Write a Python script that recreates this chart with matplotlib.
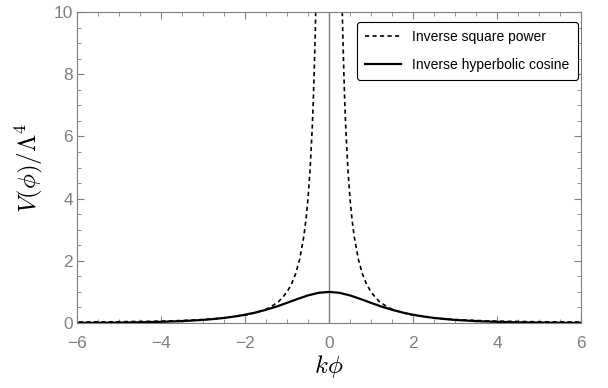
import numpy as np
import matplotlib
matplotlib.use("Agg")
import matplotlib.pyplot as plt

plt.rcParams["mathtext.fontset"] = "cm"
plt.rcParams["font.family"] = ["Liberation Sans", "DejaVu Sans"]

# values (right half, curves are symmetric)
x_sq = [0.316, 0.33, 0.35, 0.375, 0.4, 0.45, 0.5, 0.55, 0.6, 0.7, 0.8, 0.9, 1.0,
        1.1, 1.2, 1.35, 1.5, 1.75, 2.0, 2.5, 3.0, 3.5, 4.0, 5.0, 6.0]
y_sq = [10.0, 9.2, 8.2, 7.1, 6.25, 4.94, 4.0, 3.31, 2.78, 2.04, 1.56, 1.23, 1.0,
        0.83, 0.69, 0.55, 0.44, 0.33, 0.25, 0.16, 0.11, 0.08, 0.06, 0.04, 0.03]

x_ch = [0.0, 0.25, 0.5, 0.75, 1.0, 1.25, 1.5, 1.75, 2.0, 2.25, 2.5, 2.75, 3.0,
        3.5, 4.0, 4.5, 5.0, 5.5, 6.0]
y_ch = [1.0, 0.97, 0.887, 0.772, 0.648, 0.528, 0.425, 0.337, 0.266, 0.209, 0.163,
        0.128, 0.099, 0.060, 0.037, 0.022, 0.013, 0.008, 0.005]

labels = ["Inverse square power", "Inverse hyperbolic cosine"]

gray = "#7f7f7f"

fig = plt.figure(figsize=(6.08, 3.88), dpi=100)
ax = fig.add_axes([77/608, 1-323/388, (581-77)/608, (323-12)/388])

ax.axvline(0, color=gray, lw=1.0, zorder=1)

# dashed: two branches
xs = np.array(x_sq)
ys = np.array(y_sq)
ax.plot(-xs, ys, color="black", lw=1.2, ls=(0, (2.5, 2)), label=labels[0])
ax.plot(xs, ys, color="black", lw=1.2, ls=(0, (2.5, 2)))

xc = np.array(x_ch)
yc = np.array(y_ch)
ax.plot(np.concatenate([-xc[::-1], xc[1:]]), np.concatenate([yc[::-1], yc[1:]]),
        color="black", lw=1.6, label=labels[1])

ax.set_xlim(-6, 6)
ax.set_ylim(0, 10)
ax.set_xticks([-6, -4, -2, 0, 2, 4, 6])
ax.set_yticks([0, 2, 4, 6, 8, 10])
ax.set_xticks(np.arange(-6, 6.01, 0.5), minor=True)
ax.set_yticks(np.arange(0, 10.01, 0.5), minor=True)
ax.tick_params(which="both", direction="in", top=True, right=True, color=gray,
               labelcolor=gray, labelsize=12.5)
ax.tick_params(which="major", length=5, width=0.8)
ax.tick_params(which="minor", length=3, width=0.6)
ax.tick_params(axis="x", pad=9)
ax.tick_params(axis="y", pad=3)
for s in ax.spines.values():
    s.set_color(gray)
    s.set_linewidth(0.8)

ax.set_xlabel(r"$k\phi$", fontsize=18, labelpad=2)
ax.set_ylabel(r"$V(\phi)/\Lambda^4$", fontsize=18, labelpad=6)

leg = ax.legend(loc="upper right", bbox_to_anchor=(1.0 - 3/504, 1 - 10/311),
                fontsize=10, fancybox=True, framealpha=1, edgecolor="black",
                handlelength=2.6, handletextpad=0.8, borderpad=0.6,
                labelspacing=0.95, borderaxespad=0)
leg.get_frame().set_linewidth(0.8)

fig.savefig("out.png", dpi=100)
